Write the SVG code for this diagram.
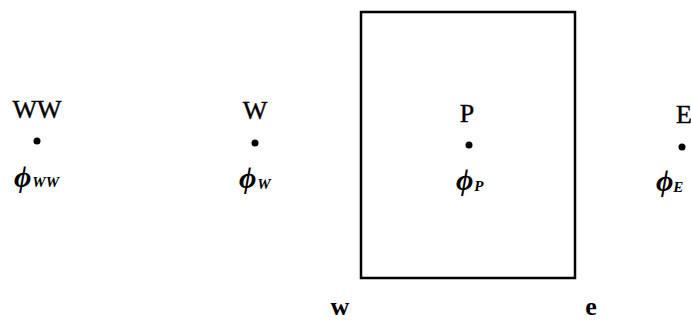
<svg xmlns="http://www.w3.org/2000/svg" width="691" height="323" viewBox="0 0 691 323">
<style>
.lbl{font-family:"Liberation Serif",serif;font-size:26px;fill:#000;text-anchor:middle;stroke:#000;stroke-width:0.4}
.phi{font-family:"Liberation Serif",serif;font-size:30px;font-style:italic;font-weight:bold;fill:#000}
.sub{font-size:15px}
.face{font-family:"Liberation Serif",serif;font-size:26px;font-weight:bold;fill:#000;text-anchor:middle}
.dot{fill:#000}
</style>
<rect width="691" height="323" fill="#fff"/>
<g id="cell">
<rect x="361" y="12" width="214" height="266" fill="none" stroke="#000" stroke-width="2.5"/>
</g>
<g id="node-WW">
<text class="lbl" x="37" y="118">WW</text>
<circle class="dot" cx="37" cy="141" r="3.5"/>
<text class="phi" x="14" y="187">ϕ<tspan class="sub" dx="1" dy="0">WW</tspan></text>
</g>
<g id="node-W">
<text class="lbl" x="255" y="119">W</text>
<circle class="dot" cx="255" cy="143" r="3.5"/>
<text class="phi" x="239" y="188">ϕ<tspan class="sub" dx="1" dy="1">W</tspan></text>
</g>
<g id="node-P">
<text class="lbl" x="467" y="122">P</text>
<circle class="dot" cx="469" cy="145" r="3.5"/>
<text class="phi" x="456" y="190">ϕ<tspan class="sub" dx="1" dy="1">P</tspan></text>
</g>
<g id="node-E">
<text class="lbl" x="684" y="123">E</text>
<circle class="dot" cx="682" cy="147" r="3.5"/>
<text class="phi" x="656" y="191">ϕ<tspan class="sub" dx="0" dy="1">E</tspan></text>
</g>
<g id="faces">
<text class="face" x="340" y="315">w</text>
<text class="face" x="591" y="315">e</text>
</g>
</svg>
